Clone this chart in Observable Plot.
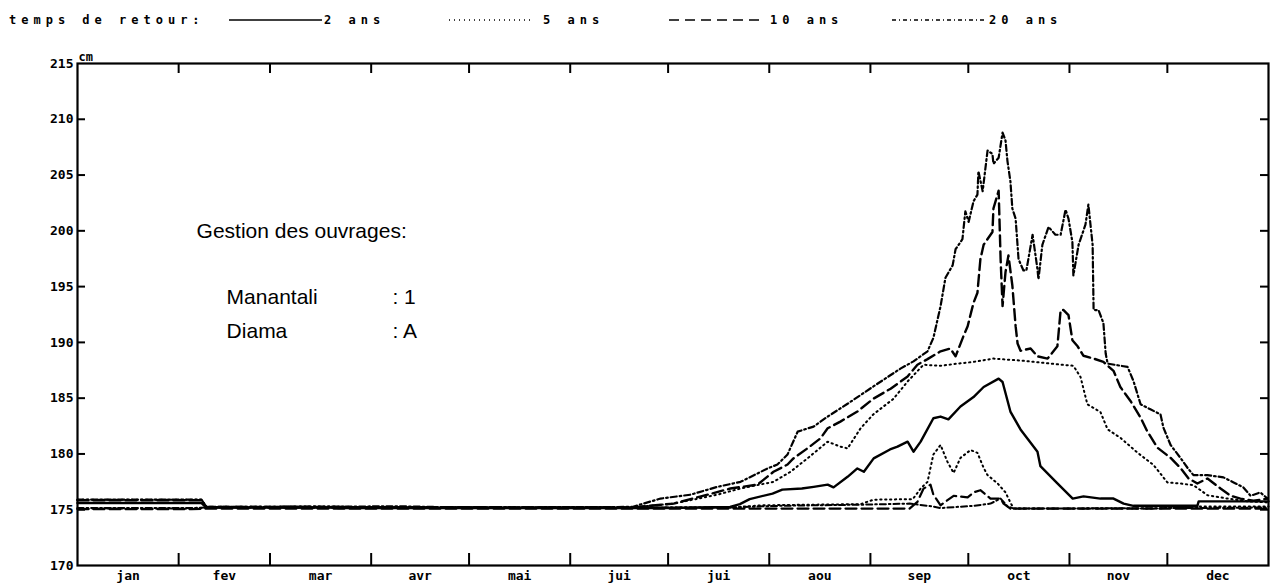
<!DOCTYPE html>
<html>
<head>
<meta charset="utf-8">
<script src="https://cdn.jsdelivr.net/npm/d3@7"></script>
<script src="https://cdn.jsdelivr.net/npm/@observablehq/plot@0.6"></script>
<style>
  html, body { margin: 0; padding: 0; background: #fff; }
  #wrap { width: 1274px; height: 588px; position: relative; overflow: hidden; }
  #legend { position: relative; width: 1274px; height: 40px; font-family: "DejaVu Sans Mono", monospace; font-weight: bold; font-size: 12px; letter-spacing: 5px; color: #000; }
  #legend .it { position: absolute; top: 12px; white-space: nowrap; line-height: 16px; }
  #legend svg { position: absolute; top: 10px; }
  g[aria-label="pixel-labels"] text { letter-spacing: 4.6px; }
</style>
</head>
<body>
<div id="wrap">
  <div id="legend"></div>
  <div id="chart"></div>
</div>
<script>
// ---- Data (day of year, water level in cm) ----
const legendTitle = "temps de retour:";
const seriesNames = ["2 ans", "5 ans", "10 ans", "20 ans"];
const months = ["jan", "fev", "mar", "avr", "mai", "jui", "jui", "aou", "sep", "oct", "nov", "dec"];
const monthStarts = [0, 31, 59, 90, 120, 151, 181, 212, 243, 273, 304, 334, 365];
const yTicks = [170, 175, 180, 185, 190, 195, 200, 205, 210, 215];
const unitLabel = "cm";
const noteTitle = "Gestion des ouvrages:";
const noteRows = [["Manantali", ": 1"], ["Diama", ": A"]];

// 2 ans (solid)
const s2ans = [[0,175.6],[38,175.6],[39.5,175.2],[79,175.2],[80,175.15],[180,175.15],[200,175.25],[203,175.5],[206,175.95],[213,176.45],[216,176.8],[222,176.9],[225.6,177.05],[229.9,177.25],[231.7,177.0],[236,177.95],[239,178.7],[241,178.4],[244,179.6],[249,180.4],[251.3,180.65],[254.4,181.1],[256.2,180.2],[258.4,181.1],[262.3,183.2],[264.5,183.35],[266.9,183.1],[270.6,184.25],[274.6,185.1],[277.7,186.0],[282.3,186.75],[283.5,186.45],[285.9,183.8],[289,182.2],[294.2,180.2],[295.1,178.9],[300,177.45],[305,176.0],[308.3,176.2],[313.5,176.0],[317.5,176.0],[320.6,175.55],[323.6,175.35],[343.2,175.35],[343.6,175.75],[365,175.75]];
// 5 ans, wet side (dotted)
const s5ansHigh = [[0,175.9],[38,175.9],[39.5,175.25],[80,175.3],[87,175.2],[170,175.2],[182.7,175.55],[196.1,176.35],[203.2,176.9],[213.3,177.5],[218.5,178.4],[223.7,179.6],[229.9,181.1],[233.8,180.65],[236,180.5],[240,182.3],[243.9,183.55],[250.1,184.95],[254.4,186.5],[259.3,188.0],[264.5,187.9],[269.7,188.1],[274.6,188.25],[280.7,188.55],[289.9,188.35],[298.2,188.1],[305.2,187.9],[307.4,186.9],[309.5,184.45],[313.5,183.75],[315.7,182.2],[319.6,181.45],[324.9,180.1],[329.8,179.0],[334,177.45],[338,177.35],[342,177.2],[346.3,176.3],[352.4,176.0],[358.6,175.75],[365,175.65]];
// 5 ans, dry side (dotted)
const s5ansLow = [[0,175.1],[35,175.1],[39.5,175.2],[200,175.2],[210,175.4],[240,175.5],[244,175.9],[256,175.95],[258.4,176.9],[260.5,177.5],[262.3,179.95],[264.5,180.8],[266.6,179.3],[268.5,178.3],[270.6,179.65],[273.7,180.35],[275.8,180.1],[277.7,178.75],[278.9,178.1],[282,177.35],[284.4,176.55],[285.9,175.65],[286.9,175.1],[330,175.1],[345,175.3],[365,175.3]];
// 10 ans, wet side (dashed)
const s10ansHigh = [[0,175.85],[38,175.85],[39.5,175.25],[170,175.2],[182.7,175.55],[193.1,176.35],[200.1,176.9],[208.4,177.25],[213.3,178.4],[217.6,179.05],[219.4,179.6],[223.7,180.5],[227.7,181.4],[229.9,182.3],[233.8,182.9],[239,183.8],[243.9,184.95],[249.2,185.85],[254.4,186.95],[257.4,188.0],[260.5,188.5],[264.5,189.2],[267.5,189.45],[269.1,188.75],[271.5,190.55],[272.8,191.45],[274.6,193.55],[275.8,194.45],[276.7,197.45],[277.7,198.75],[280.4,199.9],[280.7,202.0],[282.3,203.6],[282.9,197.45],[283.5,193.25],[284.4,196.3],[285.3,197.8],[286.5,195.1],[287.5,191.45],[288.1,189.9],[289,189.25],[292.1,189.45],[294.2,188.75],[297.3,188.55],[300.3,189.65],[301.3,192.9],[302.2,192.9],[303.7,192.45],[304.9,190.2],[306.5,189.65],[308.3,188.8],[311.4,188.55],[314.4,188.25],[317.5,187.45],[319.6,186.0],[322.7,184.75],[325.8,183.25],[327.9,182.0],[331,180.55],[335,179.65],[338,178.75],[340.5,177.8],[343.2,177.35],[346.3,177.8],[350.3,176.9],[353.4,176.25],[356.4,176.0],[360.4,175.8],[364.7,176.0]];
// 10 ans, dry side (dashed)
const s10ansLow = [[0,175.05],[35,175.05],[39.5,175.1],[255,175.1],[257.4,175.7],[259.3,176.9],[261.4,177.25],[262.3,176.35],[264.5,175.4],[268.5,176.25],[272.8,176.1],[274.6,176.55],[276.7,176.75],[279.8,176.0],[282.9,176.0],[283.8,175.55],[285.9,175.1],[365,175.1]];
// 20 ans, wet side (dash-dot)
const s20ansHigh = [[0,175.9],[38,175.9],[39.5,175.25],[100,175.3],[118,175.2],[170,175.25],[178.7,176.0],[187.9,176.35],[196.1,177.05],[203.2,177.5],[211.5,178.7],[214.5,179.05],[217.6,179.95],[220.7,182.0],[225.6,182.45],[229.9,183.35],[236,184.5],[243.9,186.05],[252.2,187.65],[256.2,188.3],[260.5,189.2],[262.3,190.4],[264.5,193.25],[266,195.8],[268.2,196.9],[269.1,198.35],[271.2,199.25],[272.1,201.75],[273.1,200.8],[274.6,202.65],[275.8,203.25],[276.1,205.35],[277.4,203.55],[278.9,207.2],[280.4,206.9],[280.7,206.0],[282.3,206.55],[283.5,208.8],[284.4,208.1],[285,206.25],[285.9,204.45],[286.5,202.0],[287.5,201.1],[288.4,197.45],[289.9,196.45],[290.8,196.45],[292.7,199.65],[294.2,196.55],[294.5,195.65],[295.7,198.75],[297.6,200.35],[299.7,199.65],[301.3,199.65],[302.8,201.9],[303.7,201.1],[304.9,199.0],[305.2,196.0],[306.8,198.75],[308.9,200.55],[309.8,202.35],[311.1,198.75],[311.4,192.9],[312.9,192.9],[314.4,191.75],[315.1,189.0],[315.7,188.1],[321.8,187.8],[323.6,186.55],[325.8,184.45],[328.8,184.0],[331.9,183.55],[332.8,182.35],[335,180.8],[338,179.65],[340.2,178.75],[342,178.1],[346.3,178.1],[351.2,177.9],[354.3,177.45],[357.3,177.0],[359.5,176.25],[362.5,176.55],[364.7,176.0]];
// 20 ans, dry side (dash-dot)
const s20ansLow = [[0,175.15],[35,175.15],[39.5,175.2],[200,175.2],[215,175.35],[240,175.45],[255,175.55],[262,175.3],[264.5,175.15],[274.6,175.35],[279.8,175.55],[282.9,176.0],[285,175.3],[287,175.1],[340,175.15],[365,175.2]];

// ---- Styles ----
const pixelFont = "DejaVu Sans Mono";
const dash = {solid: null, dotted: "1.3,3.6", dashed: "11,5", dashdot: "6,3,1.6,3"};
const lineStyles = [
  {data: s2ans, dash: dash.solid, w: 2.4},
  {data: s5ansHigh, dash: dash.dotted, w: 2},
  {data: s5ansLow, dash: dash.dotted, w: 2},
  {data: s10ansHigh, dash: dash.dashed, w: 2.4},
  {data: s10ansLow, dash: dash.dashed, w: 2.2},
  {data: s20ansHigh, dash: dash.dashdot, w: 2.2},
  {data: s20ansLow, dash: dash.dashdot, w: 2}
];

// ---- Legend (HTML above the SVG) ----
const legend = document.getElementById("legend");
function addText(txt, left) {
  const s = document.createElement("span");
  s.className = "it"; s.textContent = txt; s.style.left = left + "px";
  legend.appendChild(s);
}
function addSample(left, width, da) {
  const ns = "http://www.w3.org/2000/svg";
  const svg = document.createElementNS(ns, "svg");
  svg.setAttribute("width", width); svg.setAttribute("height", 20);
  svg.style.left = left + "px";
  const ln = document.createElementNS(ns, "line");
  ln.setAttribute("x1", 0); ln.setAttribute("x2", width);
  ln.setAttribute("y1", 10); ln.setAttribute("y2", 10);
  ln.setAttribute("stroke", "#000"); ln.setAttribute("stroke-width", 1.6);
  if (da) ln.setAttribute("stroke-dasharray", da);
  svg.appendChild(ln);
  legend.appendChild(svg);
}
addText(legendTitle, 9);
const legendLayout = [
  {lineL: 229, lineW: 93, textL: 324, da: null},
  {lineL: 449, lineW: 82, textL: 543, da: "1,4"},
  {lineL: 669, lineW: 94, textL: 770, da: "10,6"},
  {lineL: 892, lineW: 95, textL: 989, da: "4,3,1,3"}
];
legendLayout.forEach((l, i) => { addSample(l.lineL, l.lineW, l.da); addText(seriesNames[i], l.textL); });

// ---- Chart ----
const W = 1274, H = 548, mL = 77, mR = 6, mT = 23, mB = 23;
const innerW = W - mL - mR, innerH = H - mT - mB;
const monthMid = months.map((m, i) => ({name: m, mid: (monthStarts[i] + monthStarts[i + 1]) / 2}));
const innerTicks = monthStarts.slice(1, -1);

const chart = Plot.plot({
  width: W, height: H,
  marginLeft: mL, marginRight: mR, marginTop: mT, marginBottom: mB,
  style: {background: "#fff", color: "#000"},
  x: {domain: [0, 365], axis: null},
  y: {domain: [170, 215], axis: null},
  marks: [
    ...lineStyles.map(s => Plot.line(s.data, {x: d => d[0], y: d => d[1], stroke: "#000", strokeWidth: s.w, strokeDasharray: s.dash, strokeLinejoin: "round"})),
    Plot.frame({stroke: "#000", strokeWidth: 2.2}),
    Plot.tickX(innerTicks, {x: d => d, insetTop: innerH - 12, stroke: "#000", strokeWidth: 2}),
    Plot.tickX(innerTicks, {x: d => d, insetBottom: innerH - 10, stroke: "#000", strokeWidth: 2}),
    Plot.tickY(yTicks.slice(1, -1), {y: d => d, insetRight: innerW - 8, stroke: "#000", strokeWidth: 2}),
    Plot.tickY(yTicks.slice(1, -1), {y: d => d, insetLeft: innerW - 8, stroke: "#000", strokeWidth: 2}),
    Plot.text(yTicks, {y: d => d, text: d => String(d), frameAnchor: "left", dx: -4, textAnchor: "end", fontFamily: pixelFont, fontWeight: "bold", fontSize: 13, fill: "#000", ariaLabel: "pixel-labels"}),
    Plot.text(monthMid, {x: "mid", text: "name", frameAnchor: "bottom", dy: 14, fontFamily: pixelFont, fontWeight: "bold", fontSize: 13, fill: "#000", ariaLabel: "pixel-labels"}),
    Plot.text([unitLabel], {text: d => d, frameAnchor: "top-left", dx: 1, dy: -11, textAnchor: "start", fontFamily: pixelFont, fontWeight: "bold", fontSize: 12, fill: "#000", ariaLabel: "pixel-labels"}),
    Plot.text([noteTitle], {x: 36.5, y: 200, text: d => d, textAnchor: "start", fontFamily: "Liberation Sans", fontSize: 21, fill: "#000"}),
    Plot.text(noteRows, {x: 45.7, y: (d, i) => [194.05, 191.0][i], text: d => d[0], textAnchor: "start", fontFamily: "Liberation Sans", fontSize: 21, fill: "#000"}),
    Plot.text(noteRows, {x: 96.5, y: (d, i) => [194.05, 191.0][i], text: d => d[1], textAnchor: "start", fontFamily: "Liberation Sans", fontSize: 21, fill: "#000"})
  ]
});
document.getElementById("chart").appendChild(chart);
</script>
</body>
</html>
